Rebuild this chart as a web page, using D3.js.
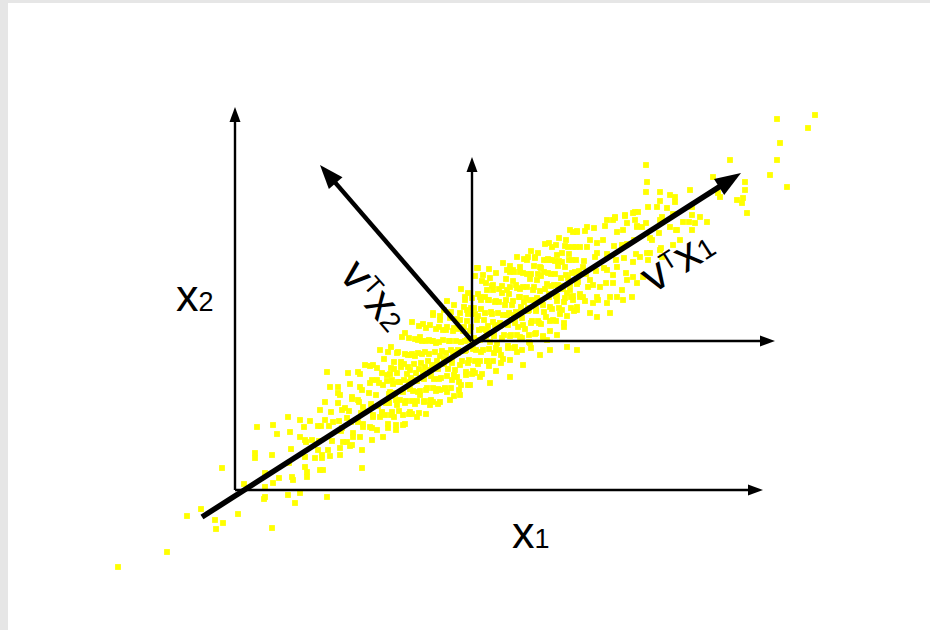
<!DOCTYPE html>
<html>
<head>
<meta charset="utf-8">
<script src="https://cdn.jsdelivr.net/npm/d3@7"></script>
<style>
  html, body { margin: 0; padding: 0; background: #ffffff; }
  svg { display: block; }
</style>
</head>
<body>
<svg id="chart" width="930" height="630"></svg>
<script>
// Observations (x1, x2) in the original coordinate frame
const samples = [
  [-11.7,-7.7],[-6.8,-6.2],[-4.8,-2.6],[-3.4,-1.9],[-2.0,-3.0],[-1.2,-3.3],[-1.9,-3.9],[0.3,-2.4],[-1.3,2.2],[0.9,0.6],
  [2.9,-0.9],[3.7,-3.8],[2.0,3.7],[3.7,3.5],[2.2,6.3],[2.0,3.2],[3.8,6.5],[4.2,5.6],[4.4,1.2],[3.8,0.7],
  [3.0,-0.7],[5.3,-0.5],[6.0,-1.3],[6.5,-0.3],[9.2,-0.7],[5.8,1.0],[7.2,1.3],[5.3,7.3],[6.5,7.0],[7.5,6.9],
  [8.3,6.4],[9.0,7.0],[9.2,11.8],[9.0,8.8],[9.5,10.3],[10.3,10.3],[10.3,8.7],[11.3,11.7],[12.3,11.8],[13.0,12.5],
  [13.8,12.5],[14.5,14.0],[6.5,5.3],[7.0,5.0],[7.7,5.0],[8.3,4.0],[8.0,3.2],[7.0,2.3],[8.7,3.2],[9.3,4.0],
  [10.5,4.2],[11.2,4.8],[11.8,5.3],[11.7,4.5],[10.7,6.2],[9.8,6.8],[11.2,7.2],[12.3,6.8],[12.8,6.3],[13.7,6.2],
  [12.7,2.2],[8.8,2.0],[12.8,8.3],[13.7,8.3],[12.3,9.0],[12.5,10.3],[13.5,10.7],[14.2,11.0],[14.7,11.7],[14.8,5.3],
  [14.7,7.7],[13.8,7.3],[10.3,9.7],[11.7,9.3],[11.0,8.2],
  [3.0,1.7],[3.0,0.3],[5.5,5.8],[5.6,4.1],[5.4,2.7],[5.7,1.3],[6.9,6.3],[7.1,4.8],[7.0,3.3],[7.2,1.8],
  [8.5,8.0],[8.6,6.4],[8.4,4.9],[8.7,3.5],[8.5,2.0],[9.6,7.8],[9.4,6.4],[9.7,4.9],[9.5,3.4],
  [10.5,9.5],[10.7,8.0],[10.4,6.9],[10.6,5.9],[10.8,4.8],[10.5,3.5],
  [11.5,10.6],[11.7,9.1],[11.4,7.9],[11.6,6.8],[11.8,5.7],[11.5,4.4],
  [12.5,11.6],[12.7,10.0],[12.4,8.8],[12.6,7.7],[12.8,6.6],[12.5,5.3],[12.7,4.0],
  [13.5,12.4],[13.7,11.0],[13.4,9.7],[13.6,8.6],[13.8,7.5],[13.5,6.3],[13.7,5.0],
  [14.2,12.2],[14.4,10.7],[14.1,9.5],[14.3,8.4],[14.5,7.3],[14.2,6.0],
  [14.9,13.1],[15.2,11.5],[14.8,10.5],[15.4,9.6],[15.1,8.7],[14.7,7.8],[15.3,6.6],
  [15.6,14.3],[15.9,12.8],[15.5,11.6],[15.8,10.6],[16.0,9.6],[15.4,8.7],[15.7,7.8],[16.1,6.5],
  [16.3,13.8],[16.6,12.8],[16.2,11.7],[16.5,10.8],[16.7,9.9],[16.1,9.0],[16.4,7.9],[16.8,6.5],
  [17.0,15.7],[17.3,13.5],[16.9,12.6],[17.2,11.6],[17.4,10.7],[16.8,9.8],[17.1,8.9],[17.5,7.8],[17.0,6.6],
  [17.7,16.8],[18.0,15.1],[17.6,13.5],[17.9,12.6],[18.1,11.7],[17.5,10.8],[17.8,9.9],[18.2,8.9],[17.7,7.6],
  [18.4,16.4],[18.7,14.9],[18.3,13.7],[18.6,12.7],[18.8,11.8],[18.2,10.9],[18.5,9.9],[18.9,8.9],[18.4,7.7],
  [19.1,16.2],[19.4,15.0],[19.0,13.8],[19.3,12.9],[19.5,12.0],[18.9,11.1],[19.2,10.2],[19.6,9.0],[19.1,7.6],
  [19.8,17.7],[20.1,16.1],[19.7,14.9],[20.0,13.8],[20.2,12.9],[19.6,12.0],[19.9,11.1],[20.3,10.1],[19.8,8.8],
  [20.5,17.4],[20.8,16.0],[20.4,14.8],[20.7,13.9],[20.9,13.0],[20.3,12.1],[20.6,11.2],[21.0,10.1],[20.5,8.8],
  [21.2,18.9],[21.5,17.2],[21.1,16.0],[21.4,14.9],[21.6,14.0],[21.0,13.1],[21.3,12.1],[21.7,11.0],[21.2,9.8],
  [21.9,18.5],[22.2,17.1],[21.8,15.9],[22.1,14.9],[22.3,14.0],[21.7,13.0],[22.0,12.0],[22.4,10.8],[21.9,9.4],
  [22.6,20.1],[22.9,18.3],[22.5,17.0],[22.8,15.9],[23.0,14.9],[22.4,13.9],[22.7,12.9],[23.1,11.8],[22.6,10.5],
  [23.3,19.7],[23.6,18.2],[23.2,16.9],[23.5,15.9],[23.7,15.0],[23.1,14.0],[23.4,13.0],[23.8,11.9],[23.3,10.5],
  [24.0,21.4],[24.3,19.6],[23.9,18.2],[24.2,17.0],[24.4,16.0],[23.8,15.0],[24.1,14.0],[24.5,12.9],[24.0,11.7],
  [24.7,20.9],[25.0,19.3],[24.6,18.1],[24.9,17.0],[25.1,16.0],[24.5,15.0],[24.8,14.0],[25.2,12.9],[24.7,11.6],
  [25.4,22.1],[25.7,20.4],[25.3,19.0],[25.6,17.8],[25.8,16.8],[25.2,15.8],[25.5,14.8],[25.9,13.7],[25.4,12.4],
  [26.1,21.7],[26.4,20.1],[26.0,18.8],[26.3,17.7],[26.5,16.7],[25.9,15.7],[26.2,14.7],[26.6,13.5],[26.1,11.9],
  [26.8,22.7],[27.1,21.1],[26.7,19.7],[27.0,18.5],[27.2,17.5],[26.6,16.5],[26.9,15.5],[27.3,14.4],[26.8,13.1],
  [27.5,22.4],[27.8,20.9],[27.4,19.6],[27.7,18.5],[27.9,17.5],[27.3,16.5],[27.6,15.5],[28.0,14.3],[27.5,13.0],
  [28.2,23.3],[28.5,21.8],[28.1,20.5],[28.4,19.3],[28.6,18.3],[28.0,17.3],[28.3,16.3],[28.7,15.2],[28.2,13.8],
  [28.9,23.1],[29.2,21.6],[28.8,20.3],[29.1,19.2],[29.3,18.2],[28.7,17.2],[29.0,16.1],[29.4,14.8],
  [29.6,23.9],[29.9,22.4],[29.5,21.1],[29.8,20.0],[30.0,19.0],[29.4,18.0],[29.7,16.9],[30.1,15.7],[29.6,14.2],
  [30.3,23.7],[30.6,22.2],[30.2,21.0],[30.5,19.9],[30.7,18.9],[30.1,17.9],[30.4,16.7],[30.8,15.4],
  [31.0,24.6],[31.3,23.1],[30.9,21.8],[31.2,20.6],[31.4,19.6],[30.8,18.5],[31.1,17.3],[31.5,15.9],
  [31.7,24.3],[32.0,22.9],[31.6,21.6],[31.9,20.5],[32.1,19.4],[31.5,18.3],[31.8,17.0],[32.2,15.5],
  [32.4,25.2],[32.7,23.7],[32.3,22.4],[32.6,21.2],[32.8,20.1],[32.2,18.9],[32.5,17.6],[32.9,16.3],
  [33.1,25.0],[33.4,23.6],[33.0,22.3],[33.3,21.2],[33.5,20.0],[32.9,18.8],[33.2,17.4],
  [33.8,25.8],[34.1,24.3],[33.7,23.0],[34.0,21.8],[34.2,20.6],[33.6,19.3],[33.9,17.9],
  [35.0,25.9],[35.2,24.3],[34.9,22.9],[35.1,21.6],[35.3,20.3],[35.0,18.9],
  [35.9,26.2],[36.2,24.7],[36.0,23.3],[36.1,21.9],[35.8,20.5],[36.3,19.0],
  [37.0,26.4],[36.8,25.0],[37.2,23.6],[36.9,22.2],[37.1,20.7],
  [38.0,27.2],[38.2,25.8],[37.9,24.4],[38.1,23.0],[37.8,21.5],
  [39.0,27.4],[38.8,26.0],[39.2,24.6],[38.9,23.2],[39.1,21.7],
  [40.0,27.8],[40.2,26.4],[39.9,25.0],[40.1,23.6],
  [41.3,28.3],[41.1,26.7],[41.5,25.2],[41.2,23.7],
  [42.5,28.9],[42.7,27.3],[42.4,25.7],[42.6,24.2],
  [44.0,29.3],[43.8,27.6],[44.1,26.0],
  [45.5,30.0],[45.7,28.3],[45.4,26.8],
  [18.5,15.3],[19.8,17.5],[20.5,17.0],[23.0,19.0],[23.2,18.0],[24.3,22.2],[25.2,20.0],[25.5,21.2],[27.5,21.8],[28.5,22.3],
  [29.2,23.0],[30.0,23.3],[31.2,23.0],[32.2,23.5],[33.3,24.3],[28.8,12.5],[27.5,11.3],[25.5,10.7],[30.5,13.5],[31.5,14.0],
  [33.2,14.3],[34.2,14.0],[31.2,15.0],[29.5,14.7],
  [16.5,9.0],[18.5,9.5],[20.5,10.0],[21.5,9.0],[23.5,10.5],[15.7,11.0],[17.5,12.0],[15.0,7.5],[19.5,8.5],[22.5,9.5],
  [34.2,25.8],[35.2,26.3],[37.2,27.0],[38.0,27.3],[39.8,27.7],[39.2,26.7],[40.2,26.3],[35.5,25.0],[36.2,23.7],[38.7,24.5],
  [39.8,22.8],[31.5,23.0],[30.5,22.3],[27.8,22.0],[34.8,22.3],[37.2,22.0],[38.2,22.3],[39.8,21.3],[35.5,21.0],[36.5,20.3],
  [37.8,20.7],[38.7,20.0],[25.8,20.0],[27.2,20.0],[24.5,19.3],[24.2,22.2],[24.8,21.5],[28.5,19.3],[32.8,20.3],[34.5,19.3],
  [36.2,19.3],[37.5,19.3],[38.8,19.0],[39.7,19.3],
  [41.1,32.5],[41.2,30.8],[41.1,29.8],[42.5,29.8],[43.5,29.5],[44.0,28.8],[42.2,28.3],[43.2,28.2],[42.5,27.0],[40.3,27.8],
  [40.0,27.0],[39.0,27.5],[37.8,27.0],[40.7,26.3],[41.7,25.0],[43.5,26.3],[44.2,26.0],[44.8,26.8],[45.7,27.5],[46.0,26.7],
  [46.5,27.3],[47.2,26.8],[45.7,26.0],[44.5,25.0],[43.8,24.5],[42.5,24.0],[41.5,23.7],[40.5,23.3],[40.8,21.3],[40.2,20.7],
  [39.2,21.0],[38.2,19.3],[37.2,18.7],[35.8,18.7],[34.8,19.3],[33.8,19.0],[34.2,18.0],[35.5,17.7],[36.2,17.3],[33.2,19.7],
  [37.5,17.7],[41.3,23.0],[42.7,23.3],
  [47.8,31.3],[48.3,29.7],[50.2,29.0],[50.7,28.7],[51.2,27.7],[51.0,30.0],[49.5,33.0],[51.0,30.8],[48.5,29.3],[50.8,29.2],
  [53.5,31.5],[55.2,30.3],[54.2,33.0],[54.5,34.7],[54.2,37.1],[57.3,36.2],[58.0,37.5],
  // dense core around the mean
  [15.3,13.8],[15.6,12.2],[15.2,10.9],[15.5,9.8],[15.4,8.7],[15.6,7.5],[15.3,6.2],
  [16.2,13.7],[15.9,12.1],[16.3,10.8],[16.0,9.7],[16.2,8.5],[15.9,7.3],[16.1,6.0],
  [16.7,15.3],[17.0,13.6],[16.6,12.3],[16.9,11.0],[16.7,9.9],[17.0,8.7],[16.8,7.5],
  [17.4,15.2],[17.7,13.6],[17.3,12.3],[17.6,11.2],[17.5,10.1],[17.7,8.9],[17.4,7.6],
  [18.3,15.0],[18.0,13.4],[18.4,12.1],[18.1,11.0],[18.3,9.8],[18.0,8.6],[18.2,7.3],
  [18.8,16.6],[19.1,14.9],[18.7,13.6],[19.0,12.3],[18.8,11.2],[19.1,10.0],[18.9,8.8],
  [19.5,16.5],[19.8,14.9],[19.4,13.6],[19.7,12.5],[19.6,11.4],[19.8,10.2],[19.5,8.9],
  [20.4,16.3],[20.1,14.7],[20.5,13.4],[20.2,12.3],[20.4,11.1],[20.1,9.9],[20.3,8.6],
  [20.9,18.0],[21.2,16.3],[20.8,15.0],[21.1,13.7],[20.9,12.6],[21.2,11.4],[21.0,10.2],
  [21.6,17.8],[21.9,16.2],[21.5,14.9],[21.8,13.8],[21.7,12.7],[21.9,11.5],[21.6,10.2],
  [22.5,17.7],[22.2,16.1],[22.6,14.8],[22.3,13.7],[22.5,12.5],[22.2,11.3],[22.4,10.0],
  [23.0,19.3],[23.3,17.6],[22.9,16.3],[23.2,15.0],[23.0,13.9],[23.3,12.7],[23.1,11.5],
  [23.7,19.2],[24.0,17.6],[23.6,16.3],[23.9,15.2],[23.8,14.1],[24.0,12.9],[23.7,11.6],
  [24.6,19.0],[24.3,17.4],[24.7,16.1],[24.4,15.0],[24.6,13.8],[24.3,12.6],[24.5,11.3],
  [25.1,20.7],[25.4,19.0],[25.0,17.7],[25.3,16.4],[25.1,15.3],[25.4,14.1],[25.2,12.9],
  [25.8,20.5],[26.1,18.9],[25.7,17.6],[26.0,16.5],[25.9,15.4],[26.1,14.2],[25.8,12.9],
  [26.7,20.4],[26.4,18.8],[26.8,17.5],[26.5,16.4],[26.7,15.2],[26.4,14.0],[26.6,12.7],
  [27.2,22.0],[27.5,20.3],[27.1,19.0],[27.4,17.7],[27.2,16.6],[27.5,15.4],[27.3,14.2],
  [27.9,21.8],[28.2,20.2],[27.8,18.9],[28.1,17.8],[28.0,16.7],[28.2,15.5],[27.9,14.2],
  [28.8,21.7],[28.5,20.1],[28.9,18.8],[28.6,17.7],[28.8,16.5],[28.5,15.3],[28.7,14.0],
  [29.3,23.3],[29.6,21.6],[29.2,20.3],[29.5,19.0],[29.3,17.9],[29.6,16.7],[29.4,15.5],
  [30.0,23.2],[30.3,21.6],[29.9,20.3],[30.2,19.2],[30.1,18.1],[30.3,16.9],[30.0,15.6],
  [30.9,23.0],[30.6,21.4],[31.0,20.1],[30.7,19.0],[30.9,17.8],[30.6,16.6],[30.8,15.3],
  [31.4,24.7],[31.7,23.0],[31.3,21.7],[31.6,20.4],[31.4,19.3],[31.7,18.1],[31.5,16.9],
  [32.1,24.5],[32.4,22.9],[32.0,21.6],[32.3,20.5],[32.2,19.4],[32.4,18.2],[32.1,16.9],
  [33.0,24.4],[32.7,22.8],[33.1,21.5],[32.8,20.4],[33.0,19.2],[32.7,18.0],[32.9,16.7],
  [33.5,26.0],[33.8,24.3],[33.4,23.0],[33.7,21.7],[33.5,20.6],[33.8,19.4],[33.6,18.2],
  [34.2,25.9],[34.5,24.3],[34.1,23.0],[34.4,21.9],[34.3,20.8],[34.5,19.6],[34.2,18.3]
];

// Axis lengths of the original frame (x1, x2)
const axisExtent = [52.8, 38.3];
// Sample mean and the ends of the centred axes drawn through it
const meanPoint = [23.7, 14.9];
const centredExtent = [54.0, 33.3];
// First principal direction (through the mean) and second direction tip
const pc1Ends = [[-3.3, -2.7], [50.6, 31.7]];
const pc2Tip = [8.5, 32.5];

const svg = d3.select("#chart");
const W = 930, H = 630;

// light grey frame along the top and left edge
svg.append("rect").attr("x", 0).attr("y", 0).attr("width", W).attr("height", H).attr("fill", "#e6e6e6");
svg.append("rect").attr("x", 8).attr("y", 3).attr("width", W - 8).attr("height", H - 3).attr("fill", "#ffffff");

const x = d3.scaleLinear().domain([0, axisExtent[0]]).range([235, 763]);
const y = d3.scaleLinear().domain([0, axisExtent[1]]).range([490, 107]);

const defs = svg.append("defs");
defs.append("filter").attr("id", "soft")
  .attr("x", "-20%").attr("y", "-20%").attr("width", "140%").attr("height", "140%")
  .append("feGaussianBlur").attr("stdDeviation", 0.6);

// scatter of observations
const ps = 5.8;
svg.append("g").attr("filter", "url(#soft)")
  .selectAll("rect").data(samples).join("rect")
  .attr("x", d => x(d[0]) - ps / 2)
  .attr("y", d => y(d[1]) - ps / 2)
  .attr("width", ps).attr("height", ps)
  .attr("fill", "#ffff00");

// line with a filled triangular head at its end
function arrow(g, from, to, width, headLen, headW) {
  const x0 = x(from[0]), y0 = y(from[1]), x1 = x(to[0]), y1 = y(to[1]);
  const len = Math.hypot(x1 - x0, y1 - y0);
  const ux = (x1 - x0) / len, uy = (y1 - y0) / len;
  const bx = x1 - ux * headLen, by = y1 - uy * headLen;
  g.append("line")
    .attr("x1", x0).attr("y1", y0)
    .attr("x2", bx + ux * 2).attr("y2", by + uy * 2)
    .attr("stroke", "#000").attr("stroke-width", width);
  const px = -uy, py = ux;
  g.append("path")
    .attr("d", `M${x1},${y1}L${bx + px * headW / 2},${by + py * headW / 2}L${bx - px * headW / 2},${by - py * headW / 2}Z`)
    .attr("fill", "#000");
}

const g = svg.append("g");
// original axes
arrow(g, [0, 0], [axisExtent[0], 0], 2.4, 15, 11);
arrow(g, [0, 0], [0, axisExtent[1]], 2.4, 15, 11);
// centred axes through the mean
arrow(g, meanPoint, [centredExtent[0], meanPoint[1]], 2.4, 15, 11);
arrow(g, meanPoint, [meanPoint[0], centredExtent[1]], 2.4, 15, 11);
// principal directions
arrow(g, pc1Ends[0], pc1Ends[1], 5.5, 26, 19);
arrow(g, meanPoint, pc2Tip, 4.5, 24, 18);

const font = "'Liberation Sans', Arial, sans-serif";

function label(xp, yp, angle, parts) {
  const t = svg.append("text")
    .attr("x", xp).attr("y", yp)
    .attr("transform", angle ? `rotate(${angle},${xp},${yp})` : null)
    .attr("font-family", font).attr("fill", "#000");
  parts.forEach(p => {
    const s = t.append("tspan").text(p.t).attr("font-size", p.size);
    if (p.dy) s.attr("dy", p.dy);
  });
}

// axis names
label(x(0) - 59, y(17.9), 0, [{ t: "x", size: 45 }, { t: "2", size: 27 }]);
label(x(27.7), y(-5.8), 0, [{ t: "x", size: 45 }, { t: "1", size: 27 }]);

// projections onto the principal directions
label(338, 276, 49, [
  { t: "v", size: 46 }, { t: "T", size: 25, dy: -12 }, { t: "x", size: 46, dy: 12 }, { t: "2", size: 28 }
]);
label(653, 294, -32.5, [
  { t: "v", size: 46 }, { t: "T", size: 25, dy: -12 }, { t: "x", size: 46, dy: 12 }, { t: "1", size: 28 }
]);
</script>
</body>
</html>
